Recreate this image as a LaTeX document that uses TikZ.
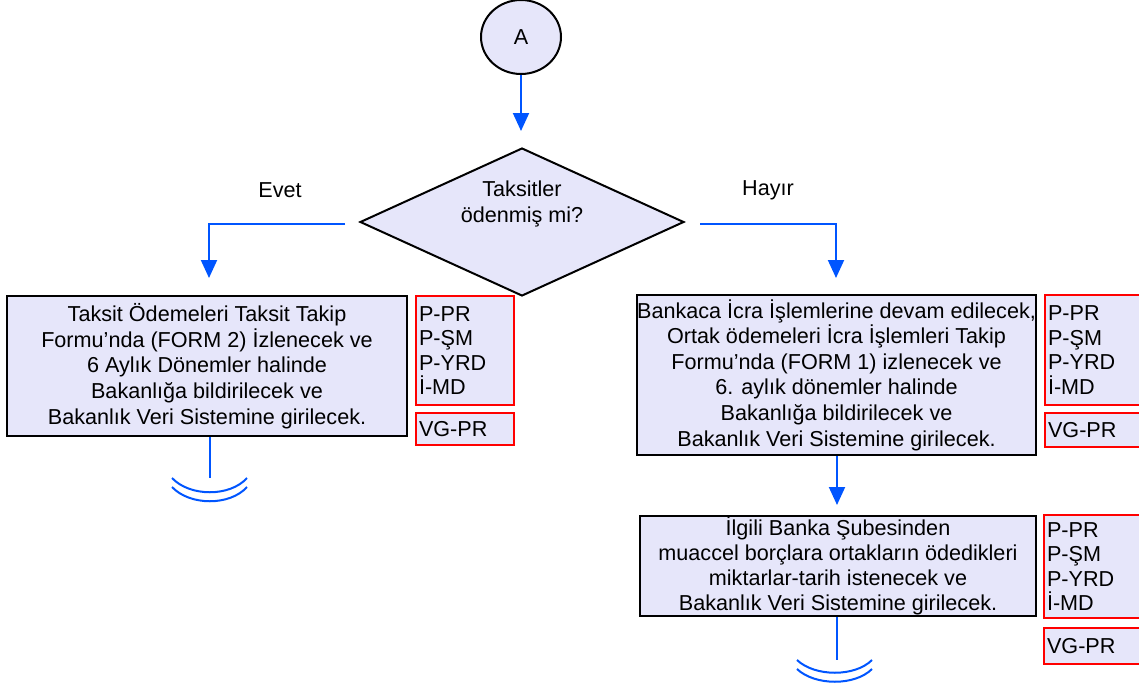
\documentclass[tikz,border=0pt]{standalone}
\usepackage{fontspec}
\setmainfont{Liberation Sans}
\usetikzlibrary{shapes.geometric,arrows.meta}
\definecolor{fl}{RGB}{230,230,250}
\definecolor{ln}{RGB}{0,85,255}
\definecolor{rd}{RGB}{255,0,0}
\tikzset{
  txt/.style={font=\fontsize{12.3}{14.6}\selectfont},
  box/.style={txt, draw=black, line width=0.04cm, fill=fl, align=center, inner sep=0pt},
  tag/.style={draw=rd, line width=0.04cm, fill=fl, align=left, inner ysep=0pt, inner xsep=0.06cm, font=\fontsize{12.3}{14}\selectfont},
  conn/.style={draw=ln, line width=0.04cm},
  arr/.style={conn, -{Triangle[width=0.32cm,length=0.36cm]}},
}
\begin{document}
\begin{tikzpicture}[x=0.02cm, y=-0.02cm]
\useasboundingbox (0,0) rectangle (1139,690);
% start
\node[txt, ellipse, draw=black, line width=0.04cm, fill=fl, minimum width=1.6cm, minimum height=1.48cm, inner sep=0pt] (A) at (521,37) {A};
\coordinate (Aend) at (521,131);
\draw[arr] (A.south) -- (Aend);
% decision
\node[diamond, draw=black, line width=0.04cm, fill=fl, minimum width=6.48cm, minimum height=2.96cm, inner sep=0pt] (D) at (522,222) {};
\node[txt, align=center] (Dt) at (522,204) {Taksitler\\ödenmiş mi?};
\node[txt] (evet) at (280,190) {Evet};
\node[txt] (hayir) at (768,190) {Hayır};
\coordinate (Ls) at (345,224);
\coordinate (Lc) at (209,224);
\coordinate (Le) at (209,278);
\coordinate (Rs) at (700,224);
\coordinate (Rc) at (836,224);
\coordinate (Re) at (836,278);
\draw[arr] (Ls) -- (Lc) -- (Le);
\draw[arr] (Rs) -- (Rc) -- (Re);
% left branch
\node[box, minimum width=8cm, minimum height=2.8cm] (L1) at (207,366) {Taksit Ödemeleri Taksit Takip\\Formu’nda (FORM 2) İzlenecek ve\\6 Aylık Dönemler halinde\\Bakanlığa bildirilecek ve\\Bakanlık Veri Sistemine girilecek.};
\node[tag, text width=1.84cm, minimum height=2.18cm] (L1t) at (465,350.5) {P-PR\\P-ŞM\\P-YRD\\İ-MD};
\node[tag, text width=1.84cm, minimum height=0.64cm] (L1v) at (465,429) {VG-PR};
\coordinate (Lend) at (210,478);
\draw[conn] (L1.south -| Lend) -- (Lend);
\draw[conn] (172,478) .. controls (190,497) and (230,497) .. (247,478);
\draw[conn] (172,487) .. controls (190,506) and (230,506) .. (247,487);
% right branch
\node[box, minimum width=7.98cm, minimum height=3.2cm] (R1) at (836.5,375) {Bankaca İcra İşlemlerine devam edilecek,\\Ortak ödemeleri İcra İşlemleri Takip\\Formu’nda (FORM 1) izlenecek ve\\6. aylık dönemler halinde\\Bakanlığa bildirilecek ve\\Bakanlık Veri Sistemine girilecek.};
\node[tag, text width=1.88cm, minimum height=2.2cm] (R1t) at (1095,350) {P-PR\\P-ŞM\\P-YRD\\İ-MD};
\node[tag, text width=1.88cm, minimum height=0.68cm] (R1v) at (1095,430) {VG-PR};
\coordinate (R2in) at (837,505);
\draw[arr] (R1.south -| R2in) -- (R2in);
\node[box, font=\fontsize{12.3}{14.2}\selectfont, minimum width=7.92cm, minimum height=2cm] (R2) at (838,566) {İlgili Banka Şubesinden\\muaccel borçlara ortakların ödedikleri\\miktarlar-tarih istenecek ve\\Bakanlık Veri Sistemine girilecek.};
\node[tag, text width=1.88cm, minimum height=2.06cm] (R2t) at (1094,566.5) {P-PR\\P-ŞM\\P-YRD\\İ-MD};
\node[tag, text width=1.88cm, minimum height=0.72cm] (R2v) at (1094,646) {VG-PR};
\coordinate (Rend) at (837,660);
\draw[conn] (R2.south -| Rend) -- (Rend);
\draw[conn] (797,660) .. controls (815,677) and (855,677) .. (872,660);
\draw[conn] (797,669) .. controls (815,686) and (855,686) .. (872,669);
\end{tikzpicture}
\end{document}
